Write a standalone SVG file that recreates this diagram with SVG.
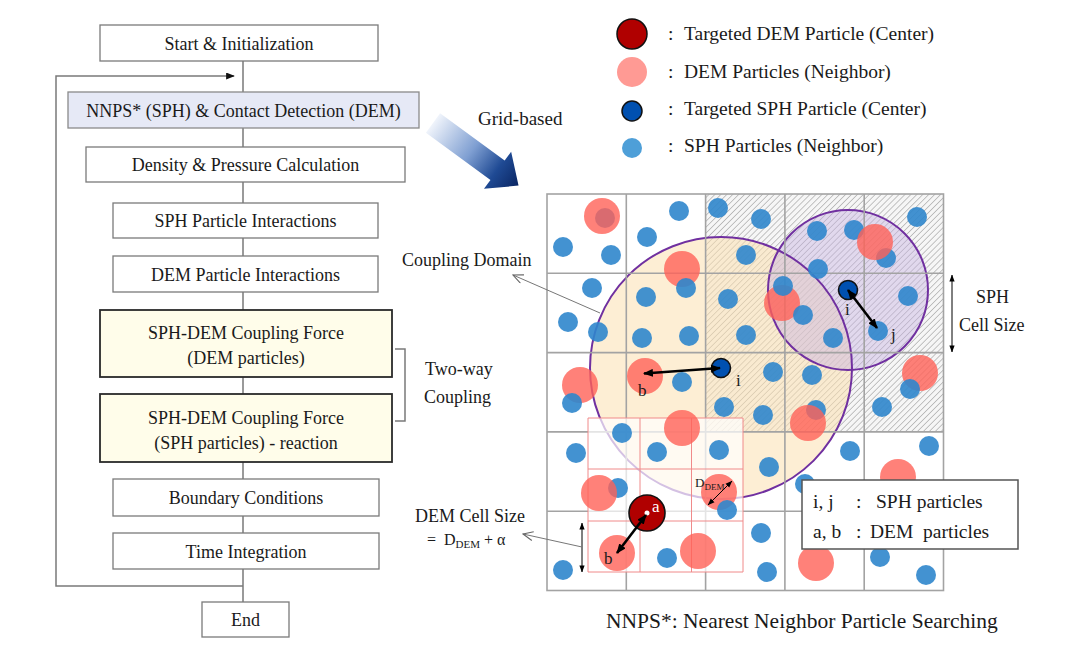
<svg xmlns="http://www.w3.org/2000/svg" width="1080" height="649" viewBox="0 0 1080 649">
<style>
text{font-family:"Liberation Serif","Times New Roman",serif;fill:#1a1a1a}
.box{fill:#fff;stroke:#7a7a7a;stroke-width:1.3}
.nn{fill:#e6e9f6;stroke:#8a8a8a;stroke-width:1.3}
.cp{fill:#fffdea;stroke:#2a2a2a;stroke-width:1.8}
.ft{font-size:18px;text-anchor:middle}
.conn{stroke:#7a7a7a;stroke-width:1.5;fill:none}
.lbl{font-size:18px}
.lg{font-size:19.5px}
.gl{stroke:#a3a3a3;stroke-width:1.6;fill:none}
.dl{stroke:#f08a8a;stroke-width:1;fill:none}
.rp{fill:#ff6158;fill-opacity:0.8}
.bp{fill:#2f86cc;fill-opacity:0.9}
.blk{stroke:#000;stroke-width:2.6;fill:none}
.thin{stroke:#000;stroke-width:1;fill:none}
.lead{stroke:#777;stroke-width:1;fill:none}
</style>
<defs>
<pattern id="hatch" width="4.2" height="4.2" patternUnits="userSpaceOnUse" patternTransform="rotate(45)">
<rect width="4.2" height="4.2" fill="#f6f6f6"/>
<line x1="0" y1="0" x2="0" y2="4.2" stroke="#8e8e8e" stroke-width="1"/>
</pattern>
<linearGradient id="ag" x1="0" y1="0" x2="1" y2="0">
<stop offset="0" stop-color="#f0f4fb"/>
<stop offset="0.45" stop-color="#7f9fd2"/>
<stop offset="0.75" stop-color="#1f4a94"/>
<stop offset="1" stop-color="#0a2562"/>
</linearGradient>
<marker id="ah" viewBox="0 0 10 8" refX="9" refY="4" markerWidth="10" markerHeight="8" markerUnits="userSpaceOnUse" orient="auto-start-reverse">
<path d="M0,0 L10,4 L0,8 Z" fill="#000"/>
</marker>
<marker id="sh" viewBox="0 0 8 6" refX="7.5" refY="3" markerWidth="7" markerHeight="6" markerUnits="userSpaceOnUse" orient="auto-start-reverse">
<path d="M0,0 L8,3 L0,6 Z" fill="#000"/>
</marker>
<marker id="oh" viewBox="0 0 12 10" refX="11" refY="5" markerWidth="12" markerHeight="10" markerUnits="userSpaceOnUse" orient="auto">
<path d="M1,0.5 L11,5 L1,9.5" fill="none" stroke="#666" stroke-width="1.1"/>
</marker>
<marker id="fh" viewBox="0 0 10 8" refX="9" refY="4" markerWidth="9" markerHeight="7" markerUnits="userSpaceOnUse" orient="auto">
<path d="M0,0 L10,4 L0,8 Z" fill="#111"/>
</marker>
</defs>
<rect width="1080" height="649" fill="#fff"/>

<!-- flowchart connectors -->
<g id="connectors">
<path class="conn" d="M243,61 V92 M243,128 V147 M243,182 V203 M243,238 V256 M243,292 V310 M243,377 V394 M243,462 V479 M243,516 V533 M243,569 V602"/>
<path class="conn" d="M243,586 H56 V76 H234" marker-end="url(#fh)"/>
<path class="conn" d="M395,349 H405 V421 H395"/>
</g>

<g id="n-start"><rect class="box" x="100" y="25" width="278" height="36"/><text class="ft" x="239" y="49.5">Start &amp; Initialization</text></g>
<g id="n-nnps"><rect class="nn" x="68" y="92" width="351" height="36"/><text class="ft" x="243.5" y="116.5">NNPS* (SPH) &amp; Contact Detection (DEM)</text></g>
<g id="n-density"><rect class="box" x="86" y="147" width="319" height="35"/><text class="ft" x="245.5" y="171">Density &amp; Pressure Calculation</text></g>
<g id="n-sphpi"><rect class="box" x="113" y="203" width="265" height="35"/><text class="ft" x="245.5" y="227">SPH Particle Interactions</text></g>
<g id="n-dempi"><rect class="box" x="113" y="256" width="265" height="36"/><text class="ft" x="245.5" y="280.5">DEM Particle Interactions</text></g>
<g id="n-cf1"><rect class="cp" x="100" y="310" width="292" height="67"/><text class="ft" x="246" y="338.5">SPH-DEM Coupling Force</text><text class="ft" x="246" y="363.5">(DEM particles)</text></g>
<g id="n-cf2"><rect class="cp" x="100" y="394" width="292" height="68"/><text class="ft" x="246" y="423.5">SPH-DEM Coupling Force</text><text class="ft" x="246" y="448.5">(SPH particles) - reaction</text></g>
<g id="n-bc"><rect class="box" x="113" y="479" width="266" height="37"/><text class="ft" x="246" y="504">Boundary Conditions</text></g>
<g id="n-ti"><rect class="box" x="113" y="533" width="266" height="36"/><text class="ft" x="246" y="557.5">Time Integration</text></g>
<g id="n-end"><rect class="box" x="202" y="602" width="87" height="35"/><text class="ft" x="245.5" y="626">End</text></g>

<g id="twoway">
<text class="lbl" x="425" y="375">Two-way</text>
<text class="lbl" x="424" y="403">Coupling</text>
</g>

<g id="gridarrow">
<polygon points="0,-12 80,-12 80,-23 106,0 80,23 80,12 0,12" fill="url(#ag)" transform="translate(433,123) rotate(36.2)"/>
<text class="lg" x="478" y="125" style="font-size:19px">Grid-based</text>
</g>

<!-- legend -->
<g id="legend">
<circle cx="632" cy="34" r="15" fill="#b00000" stroke="#111" stroke-width="1.5"/>
<circle cx="632" cy="72" r="15" fill="#ff9a94"/>
<circle cx="632" cy="111" r="10" fill="#0050b0" stroke="#111" stroke-width="1.5"/>
<circle cx="632" cy="148" r="10" fill="#4e9fd8"/>
<text class="lg" x="668" y="40">:</text>
<text class="lg" x="684" y="40">Targeted DEM Particle (Center)</text>
<text class="lg" x="668" y="78">:</text>
<text class="lg" x="684" y="78">DEM Particles (Neighbor)</text>
<text class="lg" x="668" y="115">:</text>
<text class="lg" x="684" y="115">Targeted SPH Particle (Center)</text>
<text class="lg" x="668" y="152">:</text>
<text class="lg" x="684" y="152">SPH Particles (Neighbor)</text>
</g>

<!-- grid scene -->
<g id="grid">
<rect x="705.6" y="194" width="237.9" height="237.9" fill="url(#hatch)"/>
<circle cx="721" cy="368" r="131" fill="#fbe0b0" fill-opacity="0.55"/>
<circle cx="848" cy="290" r="80" fill="#c8b4e2" fill-opacity="0.45"/>
<circle cx="721" cy="368" r="131" fill="none" stroke="#7030a0" stroke-width="2"/>
<circle cx="848" cy="290" r="80" fill="none" stroke="#7030a0" stroke-width="2"/>
<path class="gl" d="M626.3,194 V590.5 M705.6,194 V590.5 M784.9,194 V590.5 M864.2,194 V590.5 M547,273.3 H943.5 M547,352.6 H943.5 M547,431.9 H943.5 M547,511.2 H943.5"/>
<rect class="gl" x="547" y="194" width="396.5" height="396.5"/>
<rect x="588" y="418" width="155" height="154" fill="#fff" fill-opacity="0.7"/>
<path class="dl" d="M588,418 H743 V572 H588 Z M640,418 V572 M691.5,418 V572 M588,469 H743 M588,521 H743"/>
</g>

<g id="particles">
<circle class="bp" cx="605" cy="218" r="10"/>
<circle class="rp" cx="602" cy="216" r="18"/>
<circle class="rp" cx="682" cy="269" r="18"/>
<circle class="rp" cx="782" cy="303" r="18"/>
<circle class="rp" cx="580" cy="385" r="18"/>
<circle class="rp" cx="645" cy="376" r="18"/>
<circle class="rp" cx="920" cy="373" r="18"/>
<circle class="rp" cx="682" cy="428" r="18"/>
<circle class="rp" cx="719" cy="492" r="18"/>
<circle class="rp" cx="617" cy="553" r="18"/>
<circle class="rp" cx="698" cy="551" r="18"/>
<circle class="rp" cx="898" cy="477" r="18"/>
<circle class="rp" cx="816" cy="563" r="18"/>
<circle class="bp" cx="679" cy="211" r="10"/>
<circle class="bp" cx="563" cy="247" r="10"/>
<circle class="bp" cx="647" cy="237" r="10"/>
<circle class="bp" cx="611" cy="255" r="10"/>
<circle class="bp" cx="718" cy="208" r="10"/>
<circle class="bp" cx="761" cy="219" r="10"/>
<circle class="bp" cx="686" cy="288" r="10"/>
<circle class="bp" cx="592" cy="288" r="10"/>
<circle class="bp" cx="646" cy="297" r="10"/>
<circle class="bp" cx="568" cy="322" r="10"/>
<circle class="bp" cx="598" cy="332" r="10"/>
<circle class="bp" cx="642" cy="338" r="10"/>
<circle class="bp" cx="689" cy="336" r="10"/>
<circle class="bp" cx="746" cy="255" r="10"/>
<circle class="bp" cx="728" cy="299" r="10"/>
<circle class="bp" cx="746" cy="335" r="10"/>
<circle class="bp" cx="783" cy="286" r="10"/>
<circle class="bp" cx="803" cy="315" r="10"/>
<circle class="bp" cx="817" cy="231" r="10"/>
<circle class="bp" cx="818" cy="269" r="10"/>
<circle class="bp" cx="854" cy="230" r="10"/>
<circle class="bp" cx="886" cy="258" r="10"/>
<circle class="bp" cx="917" cy="217" r="10"/>
<circle class="bp" cx="908" cy="296" r="10"/>
<circle class="bp" cx="833" cy="338" r="10"/>
<circle class="bp" cx="878" cy="331" r="10"/>
<circle class="bp" cx="682" cy="382" r="10"/>
<circle class="bp" cx="773" cy="372" r="10"/>
<circle class="bp" cx="812" cy="375" r="10"/>
<circle class="bp" cx="572" cy="403" r="10"/>
<circle class="bp" cx="724" cy="407" r="10"/>
<circle class="bp" cx="763" cy="415" r="10"/>
<circle class="bp" cx="816" cy="410" r="10"/>
<circle class="bp" cx="910" cy="389" r="10"/>
<circle class="bp" cx="882" cy="407" r="10"/>
<circle class="bp" cx="622" cy="433" r="10"/>
<circle class="bp" cx="576" cy="453" r="10"/>
<circle class="bp" cx="657" cy="452" r="10"/>
<circle class="bp" cx="719" cy="450" r="10"/>
<circle class="bp" cx="769" cy="467" r="10"/>
<circle class="bp" cx="805" cy="484" r="10"/>
<circle class="bp" cx="850" cy="451" r="10"/>
<circle class="bp" cx="929" cy="446" r="10"/>
<circle class="bp" cx="618" cy="488" r="10"/>
<circle class="bp" cx="727" cy="510" r="10"/>
<circle class="bp" cx="667" cy="558" r="10"/>
<circle class="bp" cx="761" cy="533" r="10"/>
<circle class="bp" cx="563" cy="570" r="10"/>
<circle class="bp" cx="767" cy="572" r="10"/>
<circle class="bp" cx="880" cy="557" r="10"/>
<circle class="bp" cx="926" cy="575" r="10"/>
<circle class="rp" cx="875" cy="242" r="18"/>
<circle class="rp" cx="599" cy="493" r="18"/>
<circle class="rp" cx="808" cy="423" r="18"/>
<circle cx="721" cy="368" r="9.5" fill="#0050b0" stroke="#111" stroke-width="1.6"/>
<circle cx="848" cy="290" r="9.5" fill="#0050b0" stroke="#111" stroke-width="1.6"/>
<circle cx="647" cy="513" r="18" fill="#b00000" stroke="#111" stroke-width="1.6"/>
<circle cx="647" cy="513" r="2.5" fill="#fff"/>
</g>

<g id="grid-arrows">
<line class="blk" x1="720" y1="368" x2="644" y2="373.5" marker-start="url(#ah)" marker-end="url(#ah)"/>
<line class="blk" x1="848" y1="290" x2="877" y2="328" marker-start="url(#ah)" marker-end="url(#ah)"/>
<line class="blk" x1="646" y1="515" x2="617" y2="553" marker-start="url(#ah)" marker-end="url(#ah)"/>
<line class="thin" x1="708" y1="505" x2="732" y2="481" marker-start="url(#sh)" marker-end="url(#sh)"/>
<line class="thin" x1="952" y1="275" x2="952" y2="352" marker-start="url(#sh)" marker-end="url(#sh)"/>
<line class="thin" x1="582" y1="523" x2="582" y2="572" marker-start="url(#sh)" marker-end="url(#sh)"/>
<line class="lead" x1="600" y1="313" x2="513" y2="275" marker-end="url(#oh)"/>
<line class="lead" x1="582" y1="547" x2="523" y2="534" marker-end="url(#oh)"/>
</g>

<g id="grid-labels">
<text x="736" y="386" font-size="17">i</text>
<text x="638" y="396" font-size="17">b</text>
<text x="845" y="315" font-size="17">i</text>
<text x="891" y="340" font-size="17">j</text>
<text x="652" y="512" font-size="17" style="fill:#fff">a</text>
<text x="604" y="564" font-size="17">b</text>
<text x="695" y="487" font-size="13">D<tspan font-size="9" dy="3">DEM</tspan></text>
<text class="lbl" x="402" y="266">Coupling Domain</text>
<text class="lbl" x="976" y="303">SPH</text>
<text class="lbl" x="959" y="331">Cell Size</text>
<text class="lbl" x="415" y="522">DEM Cell Size</text>
<text x="427" y="545" font-size="16" style="white-space:pre">=  D<tspan font-size="11" dy="3">DEM</tspan><tspan dy="-3"> + α</tspan></text>
</g>

<g id="key">
<rect x="802" y="480" width="216" height="69" fill="#fff" stroke="#555" stroke-width="1.5"/>
<text class="lg" x="813" y="508">i, j</text>
<text class="lg" x="856" y="508">:</text>
<text class="lg" x="876" y="508">SPH particles</text>
<text class="lg" x="813" y="538">a, b</text>
<text class="lg" x="856" y="538">:</text>
<text class="lg" x="870" y="538" style="white-space:pre">DEM  particles</text>
</g>

<text x="606" y="628" font-size="21.5">NNPS*: Nearest Neighbor Particle Searching</text>
</svg>
